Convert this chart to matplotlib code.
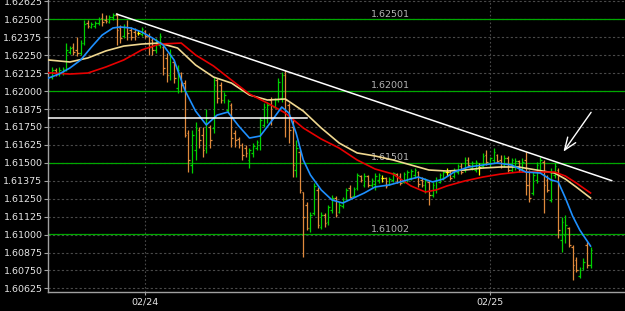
import matplotlib
matplotlib.use('Agg')
import matplotlib.pyplot as plt
import numpy as np

# 15 minute bars
opens = [1.62098, 1.62147, 1.62119, 1.62133, 1.62147, 1.62273, 1.62307, 1.62287, 1.62266, 1.62335,
         1.62475, 1.62447, 1.62454, 1.62475, 1.62510, 1.62496, 1.62482, 1.62516, 1.62530, 1.62440,
         1.62384, 1.62447, 1.62426, 1.62412, 1.62405, 1.62398, 1.62419, 1.62384, 1.62356, 1.62287,
         1.62321, 1.62307, 1.62231, 1.62112, 1.62203, 1.62022, 1.62126, 1.62056, 1.61708, 1.61485,
         1.61590, 1.61729, 1.61694, 1.61603, 1.61750, 1.61743, 1.62077, 1.62043, 1.61938, 1.61868,
         1.61903, 1.61708, 1.61666, 1.61624, 1.61603, 1.61520, 1.61569, 1.61603, 1.61624, 1.61764,
         1.61813, 1.61938, 1.61889, 1.61938, 1.61952, 1.62112, 1.61903, 1.61750, 1.61450, 1.61576,
         1.61297, 1.61206, 1.61046, 1.61150, 1.61311, 1.61053, 1.61137, 1.61088, 1.61171, 1.61255,
         1.61157, 1.61199, 1.61248, 1.61325, 1.61269, 1.61325, 1.61408, 1.61346, 1.61408, 1.61346,
         1.61353, 1.61381, 1.61394, 1.61394, 1.61353, 1.61381, 1.61422, 1.61408, 1.61367, 1.61381,
         1.61394, 1.61415, 1.61436, 1.61381, 1.61346, 1.61367, 1.61276, 1.61311, 1.61367, 1.61394,
         1.61436, 1.61436, 1.61408, 1.61436, 1.61478, 1.61450, 1.61520, 1.61464, 1.61450, 1.61471,
         1.61478, 1.61555, 1.61499, 1.61520, 1.61555, 1.61520, 1.61485, 1.61534, 1.61450, 1.61478,
         1.61513, 1.61450, 1.61520, 1.61346, 1.61290, 1.61381, 1.61450, 1.61506, 1.61381, 1.61241,
         1.61415, 1.61450, 1.60962, 1.60997, 1.61046, 1.60914, 1.60823, 1.60711, 1.60767, 1.60927,
         1.60788]
highs = [1.62168, 1.62161, 1.62168, 1.62168, 1.62335, 1.62314, 1.62335, 1.62377, 1.62356, 1.62496,
         1.62496, 1.62482, 1.62489, 1.62516, 1.62544, 1.62530, 1.62530, 1.62544, 1.62544, 1.62461,
         1.62468, 1.62496, 1.62447, 1.62440, 1.62426, 1.62447, 1.62426, 1.62405, 1.62370, 1.62370,
         1.62405, 1.62321, 1.62266, 1.62294, 1.62217, 1.62182, 1.62133, 1.62077, 1.61729, 1.61729,
         1.61785, 1.61750, 1.61750, 1.61875, 1.61764, 1.62098, 1.62091, 1.62063, 1.61994, 1.61945,
         1.61917, 1.61729, 1.61680, 1.61638, 1.61624, 1.61603, 1.61638, 1.61659, 1.61820, 1.61917,
         1.61924, 1.61959, 1.61952, 1.62091, 1.62133, 1.62147, 1.61917, 1.61799, 1.61659, 1.61590,
         1.61297, 1.61227, 1.61157, 1.61360, 1.61332, 1.61157, 1.61150, 1.61206, 1.61276, 1.61269,
         1.61227, 1.61262, 1.61325, 1.61346, 1.61332, 1.61429, 1.61415, 1.61429, 1.61415, 1.61394,
         1.61429, 1.61429, 1.61415, 1.61401, 1.61401, 1.61436, 1.61429, 1.61429, 1.61436, 1.61450,
         1.61457, 1.61464, 1.61443, 1.61401, 1.61394, 1.61381, 1.61367, 1.61401, 1.61429, 1.61450,
         1.61464, 1.61450, 1.61464, 1.61492, 1.61499, 1.61541, 1.61541, 1.61513, 1.61520, 1.61499,
         1.61569, 1.61590, 1.61541, 1.61603, 1.61562, 1.61555, 1.61555, 1.61548, 1.61534, 1.61534,
         1.61520, 1.61534, 1.61576, 1.61450, 1.61436, 1.61506, 1.61541, 1.61520, 1.61415, 1.61464,
         1.61499, 1.61464, 1.61123, 1.61137, 1.61053, 1.60927, 1.60844, 1.60774, 1.60837, 1.60948,
         1.60914]
lows = [1.62084, 1.62105, 1.62105, 1.62112, 1.62140, 1.62259, 1.62252, 1.62245, 1.62252, 1.62321,
        1.62440, 1.62440, 1.62440, 1.62461, 1.62454, 1.62475, 1.62475, 1.62496, 1.62321, 1.62335,
        1.62370, 1.62356, 1.62356, 1.62356, 1.62391, 1.62384, 1.62370, 1.62252, 1.62252, 1.62266,
        1.62300, 1.62112, 1.62063, 1.62077, 1.62056, 1.61987, 1.61994, 1.61680, 1.61436, 1.61429,
        1.61520, 1.61603, 1.61541, 1.61569, 1.61603, 1.61708, 1.61917, 1.61917, 1.61917, 1.61847,
        1.61610, 1.61610, 1.61603, 1.61520, 1.61541, 1.61464, 1.61541, 1.61590, 1.61590, 1.61750,
        1.61778, 1.61764, 1.61882, 1.61924, 1.61924, 1.61680, 1.61638, 1.61401, 1.61401, 1.61290,
        1.60844, 1.61032, 1.61018, 1.61137, 1.61046, 1.61039, 1.61053, 1.61067, 1.61150, 1.61123,
        1.61150, 1.61185, 1.61241, 1.61255, 1.61262, 1.61311, 1.61367, 1.61332, 1.61332, 1.61332,
        1.61311, 1.61360, 1.61367, 1.61325, 1.61346, 1.61367, 1.61360, 1.61346, 1.61360, 1.61367,
        1.61381, 1.61394, 1.61332, 1.61332, 1.61290, 1.61206, 1.61262, 1.61290, 1.61360, 1.61381,
        1.61408, 1.61381, 1.61394, 1.61422, 1.61422, 1.61436, 1.61471, 1.61450, 1.61436, 1.61415,
        1.61464, 1.61485, 1.61471, 1.61499, 1.61499, 1.61464, 1.61471, 1.61436, 1.61436, 1.61450,
        1.61436, 1.61436, 1.61276, 1.61227, 1.61276, 1.61360, 1.61429, 1.61150, 1.61297, 1.61227,
        1.61394, 1.60976, 1.60879, 1.60941, 1.60914, 1.60683, 1.60739, 1.60697, 1.60753, 1.60767,
        1.60767]
closes = [1.62147, 1.62119, 1.62147, 1.62154, 1.62287, 1.62300, 1.62273, 1.62266, 1.62335, 1.62468,
          1.62454, 1.62468, 1.62475, 1.62503, 1.62482, 1.62489, 1.62516, 1.62530, 1.62426, 1.62370,
          1.62447, 1.62405, 1.62377, 1.62384, 1.62405, 1.62433, 1.62384, 1.62307, 1.62287, 1.62342,
          1.62384, 1.62161, 1.62112, 1.62252, 1.62091, 1.62147, 1.62043, 1.61694, 1.61520, 1.61694,
          1.61743, 1.61659, 1.61590, 1.61813, 1.61659, 1.62043, 1.61952, 1.61938, 1.61973, 1.61931,
          1.61673, 1.61659, 1.61624, 1.61555, 1.61569, 1.61590, 1.61617, 1.61645, 1.61799, 1.61889,
          1.61903, 1.61813, 1.61938, 1.62063, 1.62112, 1.61938, 1.61729, 1.61485, 1.61603, 1.61311,
          1.61123, 1.61046, 1.61137, 1.61339, 1.61067, 1.61137, 1.61081, 1.61192, 1.61255, 1.61137,
          1.61206, 1.61248, 1.61311, 1.61262, 1.61318, 1.61415, 1.61381, 1.61408, 1.61346, 1.61381,
          1.61408, 1.61415, 1.61394, 1.61339, 1.61387, 1.61429, 1.61367, 1.61360, 1.61422, 1.61436,
          1.61443, 1.61450, 1.61353, 1.61346, 1.61381, 1.61276, 1.61346, 1.61381, 1.61415, 1.61436,
          1.61436, 1.61394, 1.61450, 1.61478, 1.61436, 1.61520, 1.61485, 1.61499, 1.61506, 1.61471,
          1.61548, 1.61506, 1.61534, 1.61576, 1.61513, 1.61478, 1.61534, 1.61450, 1.61520, 1.61513,
          1.61450, 1.61506, 1.61346, 1.61255, 1.61415, 1.61485, 1.61520, 1.61346, 1.61311, 1.61436,
          1.61478, 1.61032, 1.61088, 1.61067, 1.60927, 1.60788, 1.60753, 1.60753, 1.60809, 1.60788,
          1.60893]

# moving averages (sampled at bar index)
blue_idx = [-1, 2, 5, 8, 11, 14, 17, 19, 22, 25, 28, 31, 34, 37, 40, 43, 46, 49, 52, 55, 58, 61,
            64, 66, 68, 70, 72, 75, 78, 81, 84, 87, 90, 94, 98, 102, 106, 109, 112, 116, 120, 124,
            128, 132, 136, 139, 141, 143, 145, 147, 150]
blue_val = [1.62091, 1.62119, 1.62161, 1.62217, 1.62307, 1.62391, 1.62440, 1.62447, 1.62440,
            1.62412, 1.62370, 1.62321, 1.62217, 1.62008, 1.61861, 1.61764, 1.61833, 1.61854,
            1.61757, 1.61673, 1.61687, 1.61785, 1.61889, 1.61847, 1.61708, 1.61520, 1.61415,
            1.61311, 1.61241, 1.61220, 1.61255, 1.61290, 1.61332, 1.61346, 1.61374, 1.61401,
            1.61367, 1.61387, 1.61436, 1.61471, 1.61485, 1.61499, 1.61485, 1.61436, 1.61429,
            1.61381, 1.61367, 1.61255, 1.61130, 1.61032, 1.60920]
red_idx = [-1, 5, 10, 15, 20, 25, 30, 36, 40, 45, 50, 55, 60, 65, 70, 75, 80, 85, 90, 95, 100,
           104, 107, 110, 115, 120, 125, 130, 135, 140, 143, 146, 150]
red_val = [1.62128, 1.62119, 1.62126, 1.62168, 1.62217, 1.62287, 1.62328, 1.62335, 1.62252,
           1.62175, 1.62077, 1.61980, 1.61917, 1.61847, 1.61743, 1.61666, 1.61603, 1.61520,
           1.61457, 1.61422, 1.61339, 1.61297, 1.61311, 1.61339, 1.61374, 1.61401, 1.61422,
           1.61436, 1.61436, 1.61436, 1.61408, 1.61360, 1.61290]
yel_idx = [-1, 5, 10, 15, 20, 25, 30, 35, 40, 45, 50, 55, 60, 65, 70, 75, 80, 85, 90, 95, 100,
           105, 110, 115, 120, 125, 130, 135, 140, 143, 146, 150]
yel_val = [1.62217, 1.62203, 1.62231, 1.62280, 1.62314, 1.62328, 1.62335, 1.62300, 1.62182,
           1.62098, 1.62056, 1.61973, 1.61938, 1.61945, 1.61861, 1.61743, 1.61638, 1.61569,
           1.61548, 1.61520, 1.61485, 1.61450, 1.61443, 1.61450, 1.61464, 1.61471, 1.61471,
           1.61450, 1.61429, 1.61387, 1.61332, 1.61255]

levels = [1.62501, 1.62001, 1.61501, 1.61002]
level_labels = ['1.62501', '1.62001', '1.61501', '1.61002']
y_ticks = [1.60625, 1.60750, 1.60875, 1.61000, 1.61125, 1.61250, 1.61375, 1.61500,
           1.61625, 1.61750, 1.61875, 1.62000, 1.62125, 1.62250, 1.62375, 1.62500, 1.62625]
date_pos = [26, 122]
date_labels = ['02/24', '02/25']

trend_x = [18.0, 155.9]
trend_y = [1.62537, 1.61376]
hline_x = [-1.1, 71.0]
hline_y = 1.61813
arrow_tail = (150.6, 1.61868)
arrow_head = (142.0, 1.61562)

fig = plt.figure(figsize=(6.25, 3.11), dpi=100, facecolor='black')
ax = fig.add_axes([0.0768, 0.0601, 0.9232, 0.9399], facecolor='black')

idx = np.arange(len(opens))
o = np.array(opens); c = np.array(closes)
cols = np.where(c > o, '#00d000', np.where(c < o, '#e08a3c', '#ffff00'))

for yv in y_ticks:
    ax.axhline(yv, color='#4a4a4a', lw=0.8, ls=(0, (2, 2)), zorder=0)
for xv in date_pos:
    ax.axvline(xv, color='#4a4a4a', lw=0.8, ls=(0, (1.5, 2)), zorder=0)

for lv, lab in zip(levels, level_labels):
    ax.axhline(lv, color='#00a800', lw=0.9, zorder=1)
    ax.text(99.7, lv + 0.00004, lab, color='#b4b4b4', fontsize=6.8,
            ha='right', va='bottom', zorder=2)

ax.vlines(idx, lows, highs, colors=cols, lw=0.9, zorder=3)
ax.hlines(opens, idx - 0.45, idx, colors=cols, lw=0.9, zorder=3)
ax.hlines(closes, idx, idx + 0.45, colors=cols, lw=0.9, zorder=3)

ax.plot(yel_idx, yel_val, color='#f0d890', lw=1.2, zorder=4)
ax.plot(red_idx, red_val, color='#e80000', lw=1.2, zorder=4)
ax.plot(blue_idx, blue_val, color='#1e90ff', lw=1.2, zorder=5)

ax.plot(trend_x, trend_y, color='white', lw=1.1, zorder=6)
ax.plot(hline_x, [hline_y, hline_y], color='white', lw=1.1, zorder=6)
ax.annotate('', xy=arrow_head, xytext=arrow_tail,
            arrowprops=dict(arrowstyle='->,head_length=0.9,head_width=0.35',
                            color='white', lw=1.0), zorder=7)

ax.set_xlim(-1.1, 159.6)
ax.set_ylim(1.605977, 1.62635)
ax.set_yticks(y_ticks)
ax.set_yticklabels(['%.5f' % v for v in y_ticks])
ax.set_xticks(date_pos)
ax.set_xticklabels(date_labels)
ax.tick_params(axis='y', colors='#a0a0a0', labelcolor='#e6e6e6', labelsize=6.8,
               length=3, width=0.8, pad=1)
ax.tick_params(axis='x', colors='#a0a0a0', labelcolor='#e6e6e6', labelsize=6.8,
               length=2, width=0.8, pad=2)
for s in ['top', 'right']:
    ax.spines[s].set_visible(False)
for s in ['left', 'bottom']:
    ax.spines[s].set_color('#a0a0a0')
    ax.spines[s].set_linewidth(1.0)

fig.savefig('out.png', dpi=100, facecolor='black')
